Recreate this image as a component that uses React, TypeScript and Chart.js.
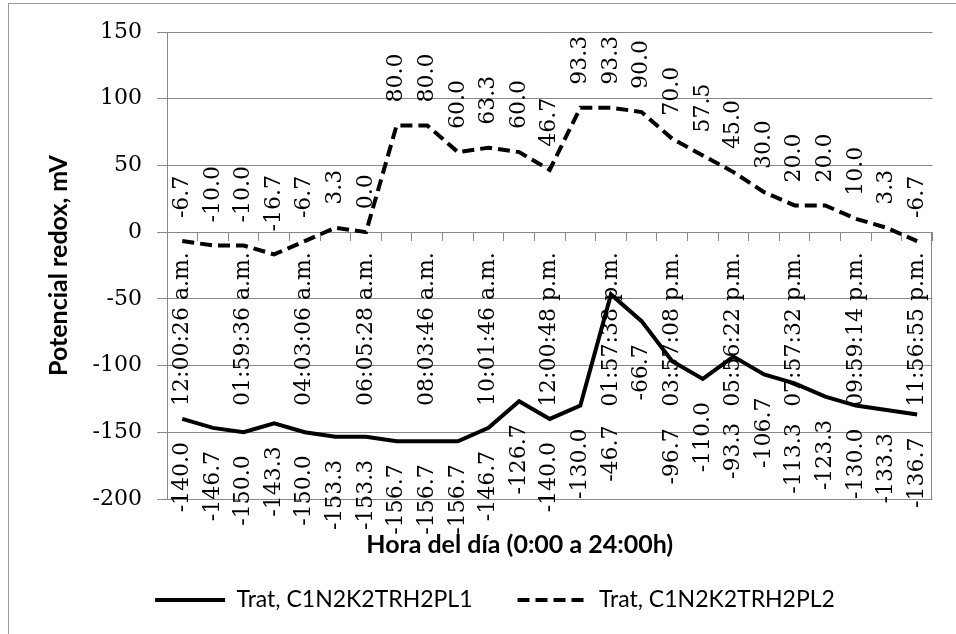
import React, { useEffect, useRef } from 'react';
import { Chart, registerables } from 'chart.js';

Chart.register(...registerables);

// ---- data ----
const categories = [
  '12:00:26 a.m.', '', '01:59:36 a.m.', '', '04:03:06 a.m.', '', '06:05:28 a.m.', '',
  '08:03:46 a.m.', '', '10:01:46 a.m.', '', '12:00:48 p.m.', '', '01:57:38 p.m.', '',
  '03:57:08 p.m.', '', '05:56:22 p.m.', '', '07:57:32 p.m.', '', '09:59:14 p.m.', '',
  '11:56:55 p.m.',
];
const seriesPL1 = [
  -140.0, -146.7, -150.0, -143.3, -150.0, -153.3, -153.3, -156.7, -156.7, -156.7,
  -146.7, -126.7, -140.0, -130.0, -46.7, -66.7, -96.7, -110.0, -93.3, -106.7,
  -113.3, -123.3, -130.0, -133.3, -136.7,
];
const seriesPL2 = [
  -6.7, -10.0, -10.0, -16.7, -6.7, 3.3, 0.0, 80.0, 80.0, 60.0,
  63.3, 60.0, 46.7, 93.3, 93.3, 90.0, 70.0, 57.5, 45.0, 30.0,
  20.0, 20.0, 10.0, 3.3, -6.7,
];
const seriesNames = ['Trat, C1N2K2TRH2PL1', 'Trat, C1N2K2TRH2PL2'];
const yAxisTitle = 'Potencial redox, mV';
const xAxisTitle = 'Hora del día (0:00 a 24:00h)';
const yMin = -200;
const yMax = 150;
const yStep = 50;

// ---- styles ----
const SERIF = '"DejaVu Serif", serif';
const SANS = 'Lato, "Open Sans", sans-serif';
const GRID = '#878787';
const DASH = [12, 6];
// manual shifts of some lower labels (as in the original)
const labelShift1: Record<number, number> = { 14: 108, 16: 44, 18: 43, 20: 17 };

const decorPlugin = {
  id: 'decor',
  afterDatasetsDraw(chart: any) {
    const ctx = chart.ctx;
    const area = chart.chartArea;
    const ys = chart.scales.y;
    ctx.save();
    // right vertical line below zero
    ctx.strokeStyle = GRID;
    ctx.lineWidth = 1;
    ctx.beginPath();
    const xr = Math.round(area.right) - 0.5;
    ctx.moveTo(xr, Math.round(ys.getPixelForValue(0)));
    ctx.lineTo(xr, Math.round(area.bottom));
    ctx.stroke();

    // data labels
    ctx.font = `22px ${SERIF}`;
    ctx.fillStyle = '#000';
    ctx.textBaseline = 'middle';
    chart.data.datasets.forEach((ds: any, i: number) => {
      const meta = chart.getDatasetMeta(i);
      meta.data.forEach((pt: any, j: number) => {
        const v = ds.data[j] as number;
        const txt = v.toFixed(1);
        ctx.save();
        if (i === 0) {
          ctx.translate(pt.x, pt.y + 23 + (labelShift1[j] || 0));
          ctx.rotate(-Math.PI / 2);
          ctx.textAlign = 'right';
        } else {
          ctx.translate(pt.x, pt.y - 23);
          ctx.rotate(-Math.PI / 2);
          ctx.textAlign = 'left';
        }
        ctx.fillText(txt, 0, 0);
        ctx.restore();
      });
    });

    // x axis title
    ctx.font = `bold 25px ${SANS}`;
    ctx.textAlign = 'center';
    ctx.textBaseline = 'middle';
    ctx.fillText(xAxisTitle, (area.left + area.right) / 2 - 30, area.bottom + 46);
    ctx.restore();
  },
};

export default function App() {
  const ref = useRef<HTMLCanvasElement>(null);
  useEffect(() => {
    const chart = new Chart(ref.current as HTMLCanvasElement, {
      type: 'line',
      data: {
        labels: categories,
        datasets: [
          {
            label: seriesNames[0],
            data: seriesPL1,
            xAxisID: 'x',
            yAxisID: 'y',
            borderColor: '#000',
            backgroundColor: '#000',
            borderWidth: 4,
            pointRadius: 0,
            tension: 0,
            fill: false,
          },
          {
            label: seriesNames[1],
            data: seriesPL2,
            xAxisID: 'x',
            yAxisID: 'y',
            borderColor: '#000',
            backgroundColor: '#000',
            borderWidth: 4,
            borderDash: DASH,
            pointRadius: 0,
            tension: 0,
            fill: false,
          },
        ],
      },
      options: {
        responsive: false,
        animation: false,
        devicePixelRatio: 1,
        layout: { padding: { top: 32, left: 50, right: 16, bottom: 12.5 } },
        plugins: {
          tooltip: { enabled: false },
          legend: {
            position: 'bottom',
            labels: {
              usePointStyle: true,
              pointStyle: 'line',
              pointStyleWidth: 70,
              padding: 45,
              color: '#000',
              font: { family: SANS, size: 23 },
              generateLabels: (ch: any) =>
                ch.data.datasets.map((ds: any, i: number) => ({
                  text: ds.label,
                  fillStyle: '#000',
                  strokeStyle: '#000',
                  fontColor: '#000',
                  lineWidth: 4,
                  lineDash: ds.borderDash || [],
                  lineCap: 'butt',
                  pointStyle: 'line',
                  hidden: false,
                  datasetIndex: i,
                })),
            },
          },
        },
        scales: {
          x: {
            type: 'category',
            position: 'bottom',
            offset: true,
            grid: { display: false, offset: true },
            border: { display: false },
            ticks: { display: false },
            afterFit: (s: any) => {
              s.height = 44.5;
            },
          },
          x2: {
            type: 'category',
            position: { y: 0 },
            offset: true,
            grid: {
              display: true,
              offset: true,
              drawOnChartArea: false,
              drawTicks: true,
              tickLength: 8,
              color: GRID,
            },
            border: { display: true, color: GRID, width: 1 },
            ticks: {
              autoSkip: false,
              minRotation: 90,
              maxRotation: 90,
              padding: 12,
              color: '#000',
              font: { family: SERIF, size: 22 },
            },
          },
          y: {
            type: 'linear',
            position: 'left',
            min: yMin,
            max: yMax,
            ticks: {
              stepSize: yStep,
              padding: 15,
              color: '#000',
              font: { family: SERIF, size: 22 },
            },
            grid: { color: GRID, tickLength: 10, drawTicks: true },
            border: { display: true, color: GRID },
            title: {
              display: true,
              text: yAxisTitle,
              color: '#000',
              font: { family: SANS, size: 25, weight: 'bold' },
              padding: { top: -6, bottom: 0 },
            },
            afterFit: (s: any) => {
              s.width = 117;
            },
          },
        },
      } as any,
      plugins: [decorPlugin],
    });
    return () => chart.destroy();
  }, []);

  return (
    <div style={{ position: 'relative', width: 956, height: 634, overflow: 'hidden', background: '#fff' }}>
      <style>{'body{margin:0}'}</style>
      <div
        style={{
          position: 'absolute',
          left: 8,
          top: 3,
          width: 1000,
          height: 1000,
          border: '1px solid #9a9a9a',
        }}
      />
      <canvas
        ref={ref}
        width={956}
        height={634}
        style={{ position: 'absolute', left: 0, top: 0, width: 956, height: 634 }}
      />
    </div>
  );
}
